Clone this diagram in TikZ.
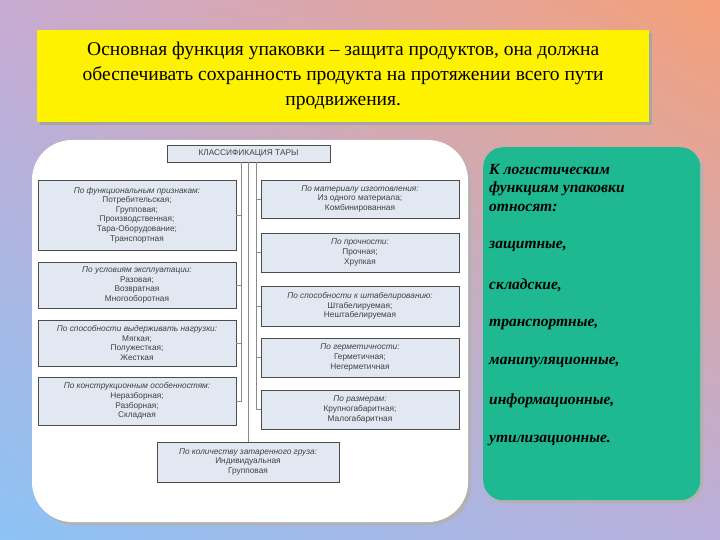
\documentclass[tikz,border=0pt]{standalone}
\usepackage{fontspec}
\usetikzlibrary{shadings}
\setmainfont{Liberation Serif}
\newfontfamily\boxfont{Liberation Sans}
\definecolor{cUL}{RGB}{200,170,210}
\definecolor{cUR}{RGB}{245,160,120}
\definecolor{cLL}{RGB}{140,195,245}
\definecolor{cLR}{RGB}{185,175,220}
\definecolor{cGreen}{RGB}{30,185,145}
\definecolor{cBox}{RGB}{226,232,242}
\begin{document}
\begin{tikzpicture}[x=1pt,y=-1pt,
  cls/.style={draw=black!70,fill=cBox,line width=0.6pt,align=center,font=\boxfont\fontsize{8.3}{9.6}\selectfont,text=black!75,inner sep=1pt},
  lnk/.style={draw=black!45,line width=0.5pt}]
\useasboundingbox (0,0) rectangle (720,540);
\shade[upper left=cUL,upper right=cUR,lower left=cLL,lower right=cLR] (0,0) rectangle (720,540);
% yellow box
\fill[black!35] (40,33) rectangle (652,125);
\node[fill=yellow,minimum width=612pt,minimum height=92pt,anchor=north west,inner sep=0pt,align=center,font=\fontsize{19.5}{25}\selectfont] (top) at (37,30) {Основная функция упаковки -- защита продуктов, она должна\\обеспечивать сохранность продукта на протяжении всего пути\\продвижения.};
% white panel
\fill[black!30,rounded corners=40pt] (35,143) rectangle (471,525);
\fill[white,rounded corners=40pt] (32,140) rectangle (468,522);
% green panel
\fill[black!30,rounded corners=20pt] (486,150) rectangle (703,503);
\node[fill=cGreen,rounded corners=20pt,minimum width=217pt,minimum height=353pt,anchor=north west,inner sep=0pt] (green) at (483,147) {};
\begin{scope}[every node/.style={anchor=west,font=\bfseries\itshape\fontsize{15.5}{17}\selectfont,inner sep=0pt}]
\node (g1) at (489,170) {К логистическим};
\node (g2) at (489,189) {функциям упаковки};
\node (g3) at (489,208) {относят:};
\node (g4) at (489,246) {защитные,};
\node (g5) at (489,285) {складские,};
\node (g6) at (489,324) {транспортные,};
\node (g7) at (489,363) {манипуляционные,};
\node (g8) at (489,401) {информационные,};
\node (g9) at (489,441) {утилизационные.};
\end{scope}
% diagram
\node[cls,minimum width=163pt,minimum height=17pt] (t) at (248.5,153.5) {КЛАССИФИКАЦИЯ ТАРЫ};
\node[cls,minimum width=198pt,minimum height=70pt] (l1) at (137,215) {\textit{По функциональным признакам:}\\Потребительская;\\Групповая;\\Производственная;\\Тара-Оборудование;\\Транспортная};
\node[cls,minimum width=198pt,minimum height=46pt] (l2) at (137,285) {\textit{По условиям эксплуатации:}\\Разовая;\\Возвратная\\Многооборотная};
\node[cls,minimum width=198pt,minimum height=46pt] (l3) at (137,343) {\textit{По способности выдерживать нагрузки:}\\Мягкая;\\Полужесткая;\\Жесткая};
\node[cls,minimum width=198pt,minimum height=48pt] (l4) at (137,401) {\textit{По конструкционным особенностям:}\\Неразборная;\\Разборная;\\Складная};
\node[cls,minimum width=198pt,minimum height=38pt] (r1) at (360,199) {\textit{По материалу изготовления:}\\Из одного материала;\\Комбинированная};
\node[cls,minimum width=198pt,minimum height=39pt] (r2) at (360,252.5) {\textit{По прочности:}\\Прочная;\\Хрупкая};
\node[cls,minimum width=198pt,minimum height=40pt] (r3) at (360,306) {\textit{По способности к штабелированию:}\\Штабелируемая;\\Нештабелируемая};
\node[cls,minimum width=198pt,minimum height=39pt] (r4) at (360,357.5) {\textit{По герметичности:}\\Герметичная;\\Негерметичная};
\node[cls,minimum width=198pt,minimum height=39pt] (r5) at (360,409.5) {\textit{По размерам:}\\Крупногабаритная;\\Малогабаритная};
\node[cls,minimum width=182pt,minimum height=40pt] (b) at (248,462) {\textit{По количеству затаренного груза:}\\Индивидуальная\\Групповая};
\coordinate (tl) at (241,162);
\coordinate (tr) at (256,162);
\coordinate (tm) at (248,162);
\draw[lnk] (tl) -- (241,401) -- (l4.east);
\draw[lnk] (tr) -- (256,409.5) -- (r5.west);
\draw[lnk] (tm) -- (b.north);
\foreach \n in {l1,l2,l3} \draw[lnk] (\n.east) -- (241,0 |- \n.east);
\foreach \n in {r1,r2,r3,r4} \draw[lnk] (\n.west) -- (256,0 |- \n.west);
\end{tikzpicture}
\end{document}
